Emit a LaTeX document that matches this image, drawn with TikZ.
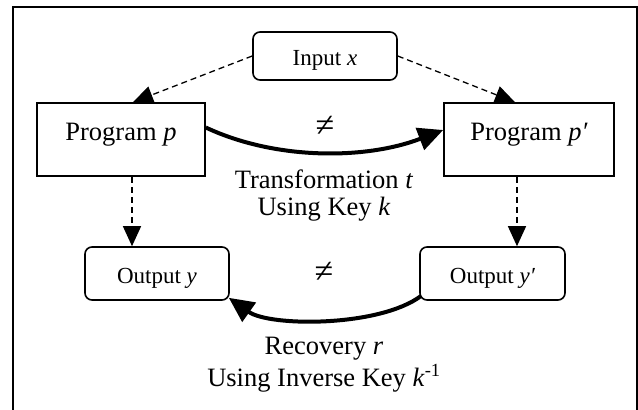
\documentclass[tikz,border=0pt]{standalone}
\usepackage{fontspec}
\setmainfont{Liberation Serif}
\usetikzlibrary{arrows.meta,calc}
\begin{document}
\begin{tikzpicture}[x=1pt,y=-1pt,
  big/.style={font=\fontsize{26.5}{28}\selectfont},
  small/.style={font=\fontsize{23}{25}\selectfont},
  neq/.style={font=\fontsize{34}{36}\selectfont,inner sep=0pt},
  sqbox/.style={draw,line width=1.6pt,fill=white,inner sep=0pt,big,text height=18pt,text depth=17pt},
  rbox/.style={draw,line width=1.6pt,fill=white,inner sep=0pt,rounded corners=7pt,small,text height=21pt,text depth=2pt},
  dasharrow/.style={line width=1.3pt,dash pattern=on 6pt off 4pt,-{Triangle[length=20pt,width=18pt]}},
  thickarrow/.style={line width=4pt,-{Triangle[length=25pt,width=23pt]}},
  lbl/.style={big,anchor=base,inner sep=0pt}
]
\useasboundingbox (0,0) rectangle (638,410);
\draw[line width=2pt] (13,420) -- (13,7) -- (637,7) -- (637,420);

\node[rbox,minimum width=144pt,minimum height=48pt] (in) at (325,56) {Input \textit{x}};
\node[sqbox,minimum width=168pt,minimum height=73pt] (pp) at (121,139.5) {Program \textit{p}};
\node[sqbox,minimum width=170pt,minimum height=73pt] (pq) at (529,139.5) {Program \textit{p′}};
\node[rbox,minimum width=144pt,minimum height=53pt] (oy) at (157,273.5) {Output \textit{y}};
\node[rbox,minimum width=145pt,minimum height=53pt] (oq) at (492.5,273.5) {Output \textit{y′}};

\draw[dasharrow] (in.west) -- ($(pp.north)+(12,0)$);
\draw[dasharrow] (in.east) -- ($(pq.north)+(-14,0)$);
\draw[dasharrow] ($(pp.south)+(11,0)$) -- ($(oy.north)+(-25,0)$);
\draw[dasharrow] ($(pq.south)+(-12,0)$) -- ($(oq.north)+(24.5,0)$);

\draw[thickarrow] ($(pp.east)+(0,-12)$) .. controls (275,160) and (365,160) .. ($(pq.west)+(0,-9.5)$);
\draw[thickarrow] ($(oq.south west)+(2,-5)$) .. controls (380,327) and (270,327) .. ($(oy.south east)+(-1,-3)$);

\node[neq] (ne1) at (325,126) {≠};
\node[neq] (ne2) at (324,272) {≠};

\node[lbl] (t1) at (324,188) {Transformation \textit{t}};
\node[lbl] (t2) at (324,215) {Using Key \textit{k}};
\node[lbl] (r1) at (324,354) {Recovery \textit{r}};
\node[lbl] (r2) at (324,386) {Using Inverse Key \textit{k}\textsuperscript{-1}};
\end{tikzpicture}
\end{document}
